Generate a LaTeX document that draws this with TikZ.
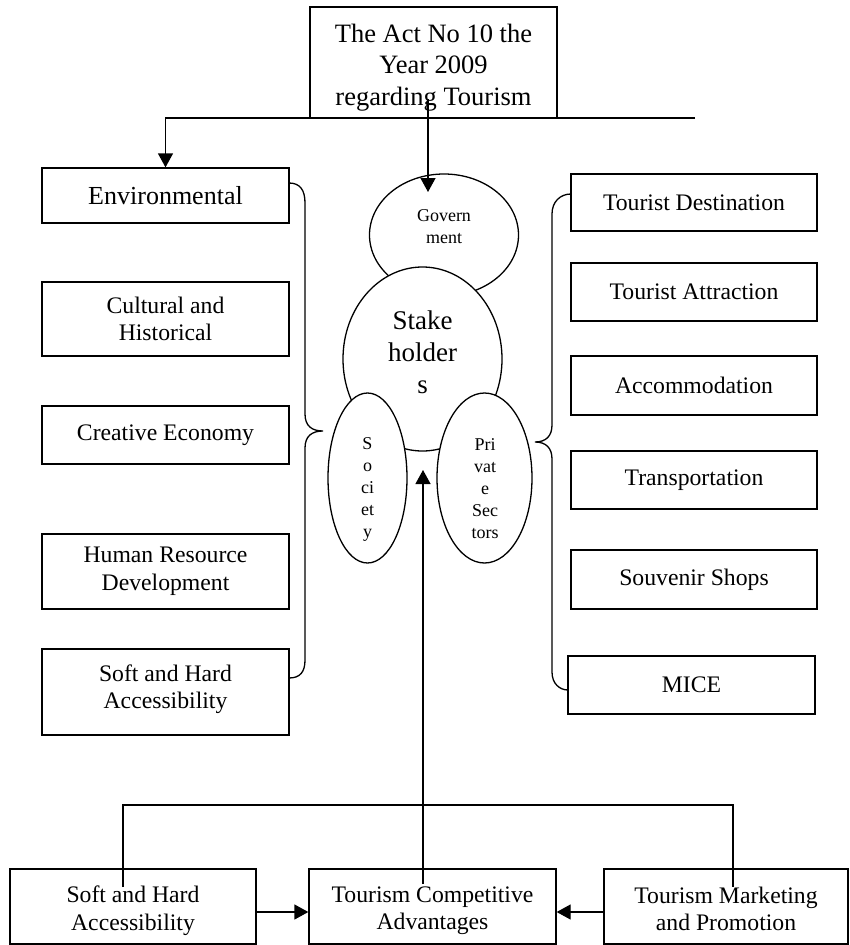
\documentclass[tikz,border=0pt]{standalone}
\usepackage{fontspec}
\setmainfont{Liberation Serif}
\usetikzlibrary{shapes.geometric,arrows.meta}
\begin{document}
\begin{tikzpicture}[x=1pt,y=-1pt,line width=1.3pt,
  box/.style={draw,rectangle,inner sep=0pt,align=center,font=\fontsize{23.7}{27.5}\selectfont},
  lbox/.style={box,minimum width=247pt},
  rbox/.style={box,minimum width=246pt},
  bbox/.style={box,minimum height=75pt},
  oval/.style={draw,ellipse,inner sep=0pt,fill=white},
  lbl/.style={align=center,inner sep=0pt},
  btxt/.style={lbl,font=\fontsize{23.7}{27.5}\selectfont},
  arr/.style={-{Triangle[length=14pt,width=15pt]}}]
\useasboundingbox (0,0) rectangle (850,945);

% top box
\node[box,minimum width=247pt,minimum height=111pt] (act) at (433.5,62.5) {};
\node[lbl,font=\fontsize{26.5}{31.5}\selectfont] (actT) at (433.5,67.5) {The Act No 10 the\\Year 2009\\regarding Tourism};

% left boxes
\node[lbox,minimum height=55pt,font=\fontsize{26}{30}\selectfont] (env) at (165.5,195.5) {Environmental};
\node[lbox,minimum height=74pt] (cult) at (165.5,319) {Cultural and\\Historical};
\node[lbox,minimum height=58pt] (crea) at (165.5,435) {Creative Economy};
\node[lbox,minimum height=75pt] (hum) at (165.5,571.5) {Human Resource\\Development};
\node[lbox,minimum height=86pt] (lsoft) at (165.5,692) {};
\node[btxt] (lsoftT) at (165.5,689) {Soft and Hard\\Accessibility};

% right boxes
\node[rbox,minimum height=57pt] (tdest) at (694,202.5) {Tourist Destination};
\node[rbox,minimum height=58pt] (tattr) at (694,292) {Tourist Attraction};
\node[rbox,minimum height=59pt] (accom) at (694,385.5) {Accommodation};
\node[rbox,minimum height=58pt] (trans) at (694,480) {Transportation};
\node[rbox,minimum height=59pt] (souv) at (694,579.5) {Souvenir Shops};
\node[box,minimum width=247pt,minimum height=58pt] (mice) at (691.5,685) {MICE};

% bottom boxes
\node[bbox,minimum width=246pt] (bsoft) at (133,906.5) {};
\node[bbox,minimum width=247pt] (bcomp) at (432.5,906.5) {};
\node[bbox,minimum width=244pt] (bmark) at (726,906.5) {};
\node[btxt] (bsoftT) at (133,910.5) {Soft and Hard\\Accessibility};
\node[btxt] (bcompT) at (432.5,910.5) {Tourism Competitive\\Advantages};
\node[btxt] (bmarkT) at (726,909) {Tourism Marketing\\and Promotion};

% ovals
\node[oval,minimum width=149pt,minimum height=122pt] (gov) at (444,235) {};
\node[oval,minimum width=159pt,minimum height=184pt] (stake) at (422.5,359) {};
\node[oval,minimum width=79pt,minimum height=170pt] (soc) at (367.5,478) {};
\node[oval,minimum width=95pt,minimum height=170pt] (priv) at (484.5,478) {};

\node[lbl,font=\fontsize{18}{22}\selectfont] (govT) at (444,227) {Govern\\ment};
\node[lbl,font=\fontsize{27}{32}\selectfont] (stakeT) at (422.5,352) {Stake\\holder\\s};
\node[lbl,font=\fontsize{18}{22}\selectfont] (socT) at (367.5,489) {S\\o\\ci\\et\\y};
\node[lbl,font=\fontsize{18}{22}\selectfont] (privT) at (485,489) {Pri\\vat\\e\\Sec\\tors};

% top connectors
\coordinate (hr) at (695,118);
\draw[arr] (hr) -| (env.north);
\coordinate (ga) at (428,99);
\coordinate (gb) at (428,192);
\draw[arr] (ga) -- (gb);

% braces
\draw (289,183) .. controls (300,183) and (305,190) .. (305,203) -- (305,414)
  .. controls (305,426) and (312,431) .. (323,431)
  .. controls (312,431) and (305,436) .. (305,448) -- (305,660)
  .. controls (305,672) and (300,678) .. (289,678);
\draw (571,194) .. controls (560,194) and (552,202) .. (552,214) -- (552,425)
  .. controls (552,436) and (546,442) .. (535,442)
  .. controls (546,442) and (552,448) .. (552,459) -- (552,672)
  .. controls (552,684) and (560,690) .. (568,690);

% bottom connectors
\coordinate (bl) at (123,887);
\coordinate (blt) at (123,805);
\coordinate (brt) at (733,805);
\coordinate (br) at (733,887);
\draw (bl) -- (blt) -- (brt) -- (br);
\coordinate (cs) at (423,884);
\coordinate (ct) at (423,470);
\draw[arr] (cs) -- (ct);
\draw[arr] ([yshift=-5.5pt]bsoft.east) -- ([yshift=-5.5pt]bcomp.west);
\draw[arr] ([yshift=-5.5pt]bmark.west) -- ([yshift=-5.5pt]bcomp.east);
\end{tikzpicture}
\end{document}
